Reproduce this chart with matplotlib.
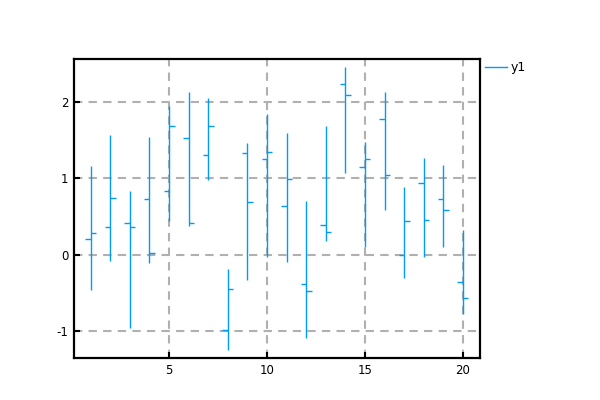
import matplotlib
matplotlib.use("Agg")
import matplotlib.pyplot as plt
from matplotlib.lines import Line2D

x = list(range(1, 21))
opens = [0.20, 0.358, 0.415, 0.734, 0.834, 1.528, 1.310, -0.987, 1.328, 1.253,
         0.633, -0.376, 0.389, 2.231, 1.148, 1.773, 0.0, 0.939, 0.734, -0.362]
highs = [1.166, 1.572, 0.838, 1.546, 1.943, 2.127, 2.052, -0.188, 1.463, 1.843,
         1.598, 0.707, 1.690, 2.459, 1.476, 2.135, 0.891, 1.271, 1.179, 0.323]
lows = [-0.459, -0.079, -0.952, -0.114, 0.437, 0.376, 0.983, -1.245, -0.336, -0.031,
        -0.100, -1.083, 0.175, 1.070, 0.096, 0.585, -0.306, -0.031, 0.096, -0.769]
closes = [0.284, 0.738, 0.367, 0.022, 1.681, 0.415, 1.690, -0.445, 0.690, 1.345,
          0.996, -0.480, 0.301, 2.087, 1.253, 1.048, 0.445, 0.459, 0.590, -0.568]
xticks = [5, 10, 15, 20]
yticks = [-1, 0, 1, 2]
color = "#009AFA"

fig = plt.figure(figsize=(6, 4), dpi=100)
ax = fig.add_axes([0.1233, 0.105, 0.8767 - 0.1233 - 0.0767, 0.8525 - 0.105])

tw = 0.28
for xi, o, h, l, c in zip(x, opens, highs, lows, closes):
    ax.plot([xi, xi], [l, h], color=color, lw=1.0, solid_capstyle="butt")
    ax.plot([xi - tw, xi], [o, o], color=color, lw=1.0, solid_capstyle="butt")
    ax.plot([xi, xi + tw], [c, c], color=color, lw=1.0, solid_capstyle="butt")

ax.set_xlim(0.15, 20.87)
ax.set_ylim(-1.35, 2.56)
ax.set_xticks(xticks)
ax.set_yticks(yticks)
ax.set_xticklabels([str(t) for t in xticks])
ax.set_yticklabels([str(t) for t in yticks])
ax.grid(True, color="#b0b0b0", linestyle=(0, (4, 3)), linewidth=1.5)
ax.set_axisbelow(True)
ax.tick_params(direction="in", length=4, width=1.5, labelsize=8.5, colors="black", pad=4)
for s in ax.spines.values():
    s.set_linewidth(1.6)
    s.set_color("black")

handle = Line2D([0], [0], color=color, lw=1.0)
fig.legend([handle], ["y1"], loc="upper left", bbox_to_anchor=(0.79, 0.875),
           frameon=False, fontsize=9, handlelength=1.7, handletextpad=0.3)

fig.savefig("out.png", dpi=100)
